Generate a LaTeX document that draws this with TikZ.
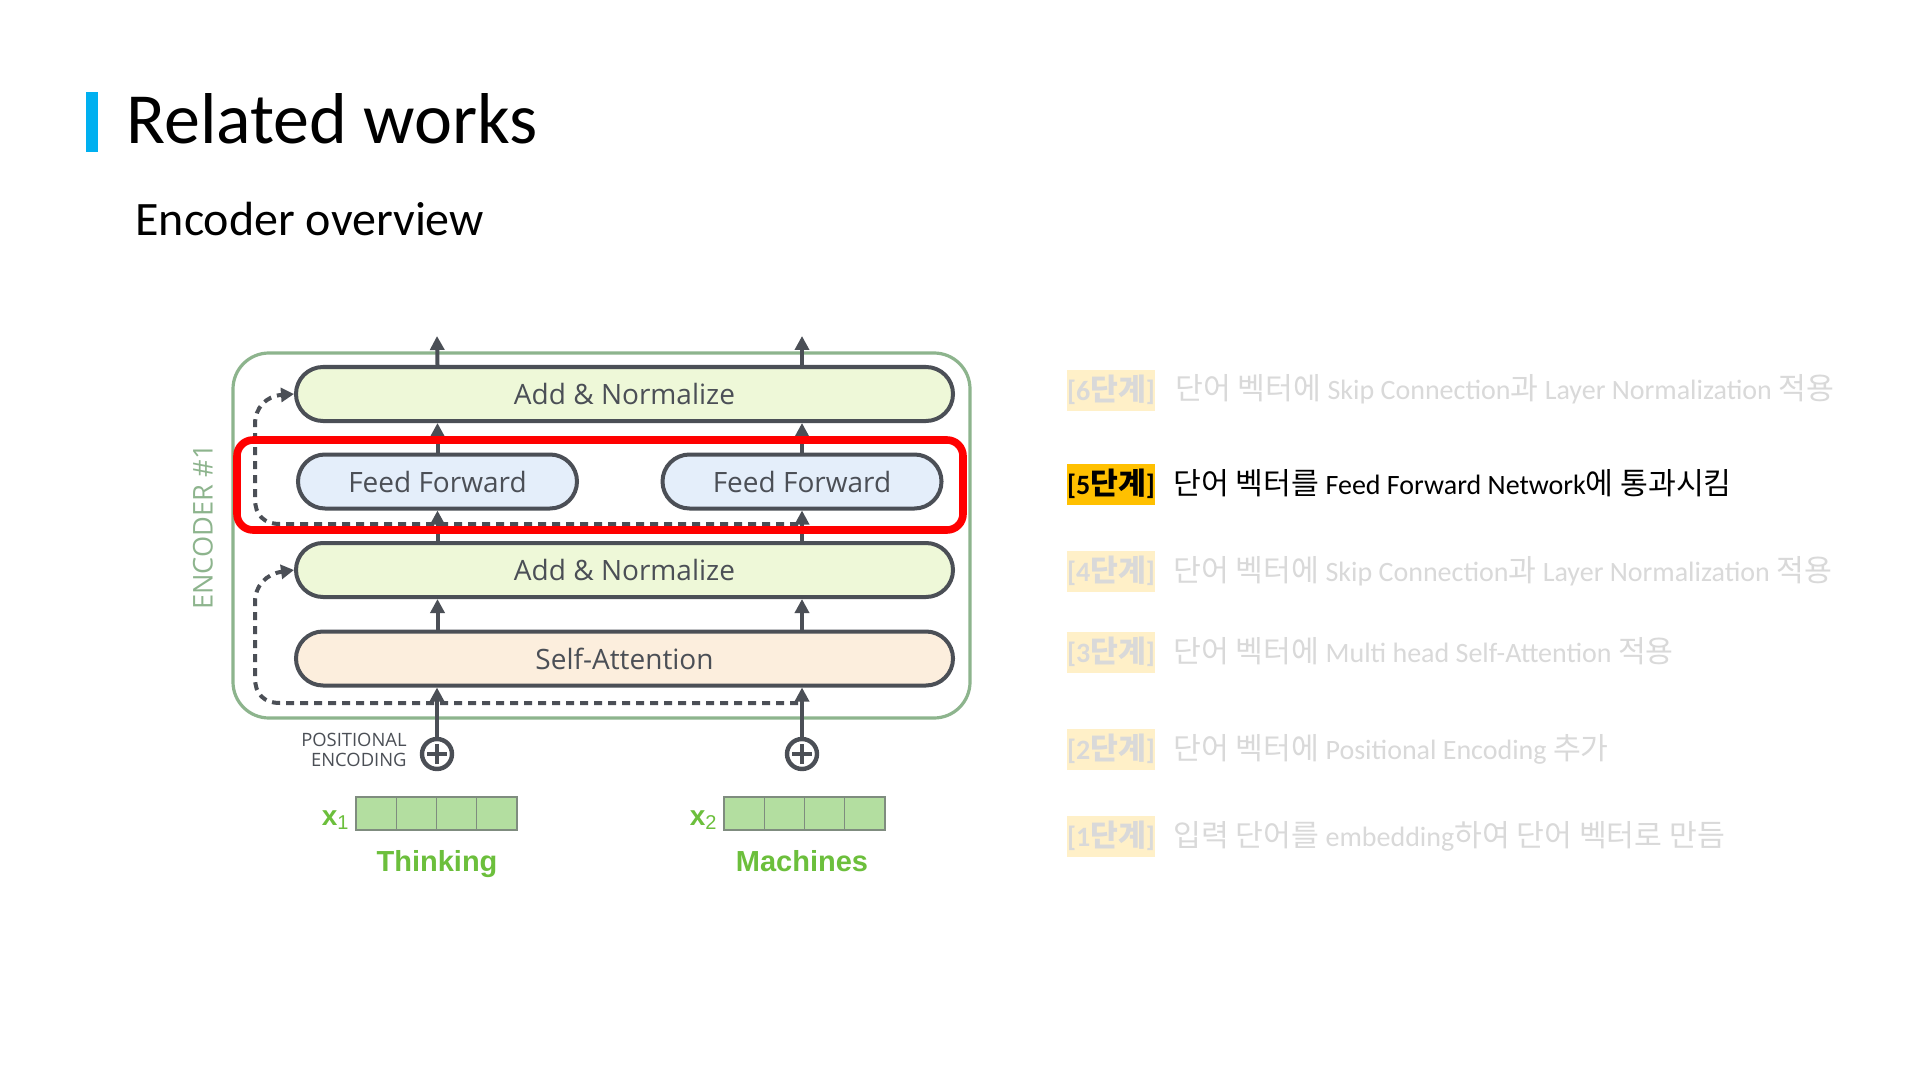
\documentclass[tikz,border=0pt]{standalone}
\usepackage{fontspec}
\setmainfont{Carlito}
\newfontfamily\osans{Open Sans}
\newfontfamily\helv{Liberation Sans}
\newfontfamily\kr[Scale=1.08]{Noto Sans CJK KR}
\newcommand\K[1]{{\kr #1}}
\usetikzlibrary{arrows.meta}
\definecolor{dk}{HTML}{4B4F56}
\definecolor{anfill}{HTML}{EEF8D8}
\definecolor{fffill}{HTML}{E4EEFA}
\definecolor{safill}{HTML}{FCEEDD}
\definecolor{encg}{HTML}{8DB48D}
\definecolor{cellg}{HTML}{B3DEA0}
\definecolor{cellb}{HTML}{7F8C7F}
\definecolor{wordg}{HTML}{6CBF3C}
\definecolor{fadetxt}{HTML}{D9D9D9}
\definecolor{fadebg}{HTML}{FFF0C8}
\definecolor{gold}{HTML}{FFC000}
\definecolor{barblue}{HTML}{00B0F0}
\begin{document}
\begin{tikzpicture}[x=0.5pt,y=-0.5pt,
  pill/.style={draw=dk,line width=2pt,rounded corners=13.5pt,inner sep=0pt,
    minimum height=27pt,font=\osans\fontsize{14}{16}\selectfont,text=dk},
  wide/.style={pill,minimum width=328.5pt},
  ffbox/.style={pill,fill=fffill,minimum width=139.5pt},
  arr/.style={draw=dk,line width=2pt,-{Triangle[width=7pt,length=7pt]}},
  dsh/.style={draw=dk,line width=2pt,dash pattern=on 4pt off 3pt,
    -{Triangle[width=7pt,length=6.5pt]}},
  cell/.style={draw=cellb,line width=0.6pt,fill=cellg,minimum width=20.1pt,
    minimum height=16.5pt,inner sep=0pt},
  word/.style={text=wordg,font=\helv\bfseries\fontsize{14.5}{17}\selectfont,anchor=base,inner sep=0pt},
  xlab/.style={text=wordg,font=\helv\bfseries\fontsize{14}{16}\selectfont,anchor=base east,inner sep=0pt},
  lab/.style={minimum width=43pt,minimum height=20.5pt,inner sep=0pt,
    font=\bfseries\fontsize{14}{16}\selectfont},
  fadelab/.style={lab,fill=fadebg,text=fadetxt},
  step txt/.style={anchor=base west,inner sep=0pt,font=\fontsize{14}{16}\selectfont},
  fadetext/.style={step txt,text=fadetxt},
  plus/.style={circle,draw=dk,line width=2.2pt,minimum size=15pt,inner sep=0pt}
]
\useasboundingbox (0,0) rectangle (1920,1080);
\fill[white] (0,0) rectangle (1920,1080);

% title
\fill[barblue] (86,92) rectangle (98,152);
\node[anchor=base west,inner sep=0pt,font=\fontsize{36}{43}\selectfont] (title) at (126,144) {Related works};
\node[anchor=base west,inner sep=0pt,font=\fontsize{24}{29}\selectfont] (sub) at (135,236) {Encoder overview};

% encoder frame
\node[draw=encg,line width=1.6pt,rounded corners=18pt,minimum width=368.5pt,
  minimum height=182.5pt,inner sep=0pt] (frame) at (601.5,535.5) {};
\node[rotate=90,text=encg,font=\osans\fontsize{13.6}{15}\selectfont,inner sep=0pt] (enc) at (203,527) {ENCODER \#1};

% boxes
\node[wide,fill=anfill] (an1) at (624.5,394) {Add \& Normalize};
\node[ffbox] (ff1) at (437.5,481.5) {Feed Forward};
\node[ffbox] (ff2) at (802,481.5) {Feed Forward};
\node[wide,fill=anfill] (an2) at (624.5,570) {Add \& Normalize};
\node[wide,fill=safill] (sa) at (624.5,658.5) {Self-Attention};

% top outputs
\coordinate (o1) at (437,336);
\coordinate (o2) at (802,336);
\draw[arr] (an1.north -| ff1) -- (o1);
\draw[arr] (an1.north -| ff2) -- (o2);
\draw[arr] (ff1.north) -- (an1.south -| ff1);
\draw[arr] (ff2.north) -- (an1.south -| ff2);
\draw[arr] (an2.north -| ff1) -- (ff1.south);
\draw[arr] (an2.north -| ff2) -- (ff2.south);
\draw[arr] (sa.north -| ff1) -- (an2.south -| ff1);
\draw[arr] (sa.north -| ff2) -- (an2.south -| ff2);

% positional encoding
\node[plus] (p1) at (437,754) {};
\node[plus] (p2) at (802,754) {};
\foreach \p in {p1,p2}{
  \draw[dk,line width=2.2pt] ([xshift=-5pt]\p.center) -- ([xshift=5pt]\p.center);
  \draw[dk,line width=2.2pt] ([yshift=-5pt]\p.center) -- ([yshift=5pt]\p.center);
}
\draw[arr] (p1.north) -- (sa.south -| p1);
\draw[arr] (p2.north) -- (sa.south -| p2);
\node[anchor=base east,inner sep=0pt,text=dk,font=\osans\fontsize{9.2}{10}\selectfont] (pe1) at (407,746) {POSITIONAL};
\node[anchor=base east,inner sep=0pt,text=dk,font=\osans\fontsize{9.2}{10}\selectfont] (pe2) at (407,766) {ENCODING};

% residual dashed
\coordinate (d1s) at (798,703);
\coordinate (d2s) at (798,524);
\draw[dsh] (d1s) -- (280,703) .. controls (264,703) and (255,694) .. (255,678)
  -- (255,602) .. controls (255,586) and (266,574) .. (an2.west);
\draw[dsh] (d2s) -- (280,524) .. controls (264,524) and (255,515) .. (255,499)
  -- (255,424) .. controls (255,408) and (266,396) .. (an1.west);

% red highlight
\draw[red,line width=3.8pt,rounded corners=8pt] (237,440) rectangle (963,530);

% embeddings
\foreach \i in {0,1,2,3}{
  \node[cell] (a\i) at ({376.1+40.25*\i},813.5) {};
  \node[cell] (b\i) at ({744.1+40.25*\i},813.5) {};
}
\node[xlab] (x1) at (349,825) {x\raisebox{-0.3ex}{\fontsize{10}{10}\selectfont\mdseries 1}};
\node[xlab] (x2) at (717,825) {x\raisebox{-0.3ex}{\fontsize{10}{10}\selectfont\mdseries 2}};
\node[word] (w1) at (437,871) {Thinking};
\node[word] (w2) at (802,871) {Machines};

% steps
\node[fadelab] (l6) at (1111,390) {[6\K{단계}]};
\node[fadetext] (t6) at (1175,400) {\K{단어 벡터에} Skip Connection\K{과} Layer Normalization \K{적용}};
\node[lab,fill=gold] (l5) at (1111,484) {[5\K{단계}]};
\node[step txt] (t5) at (1173,494) {\K{단어 벡터를} Feed Forward Network\K{에 통과시킴}};
\node[fadelab] (l4) at (1111,571) {[4\K{단계}]};
\node[fadetext] (t4) at (1173,581) {\K{단어 벡터에} Skip Connection\K{과} Layer Normalization \K{적용}};
\node[fadelab] (l3) at (1111,652) {[3\K{단계}]};
\node[fadetext] (t3) at (1173,662) {\K{단어 벡터에} Multi head Self-Attention \K{적용}};
\node[fadelab] (l2) at (1111,749) {[2\K{단계}]};
\node[fadetext] (t2) at (1173,759) {\K{단어 벡터에} Positional Encoding \K{추가}};
\node[fadelab] (l1) at (1111,836) {[1\K{단계}]};
\node[fadetext] (t1) at (1173,846) {\K{입력 단어를} embedding\K{하여 단어 벡터로 만듬}};
\end{tikzpicture}
\end{document}
